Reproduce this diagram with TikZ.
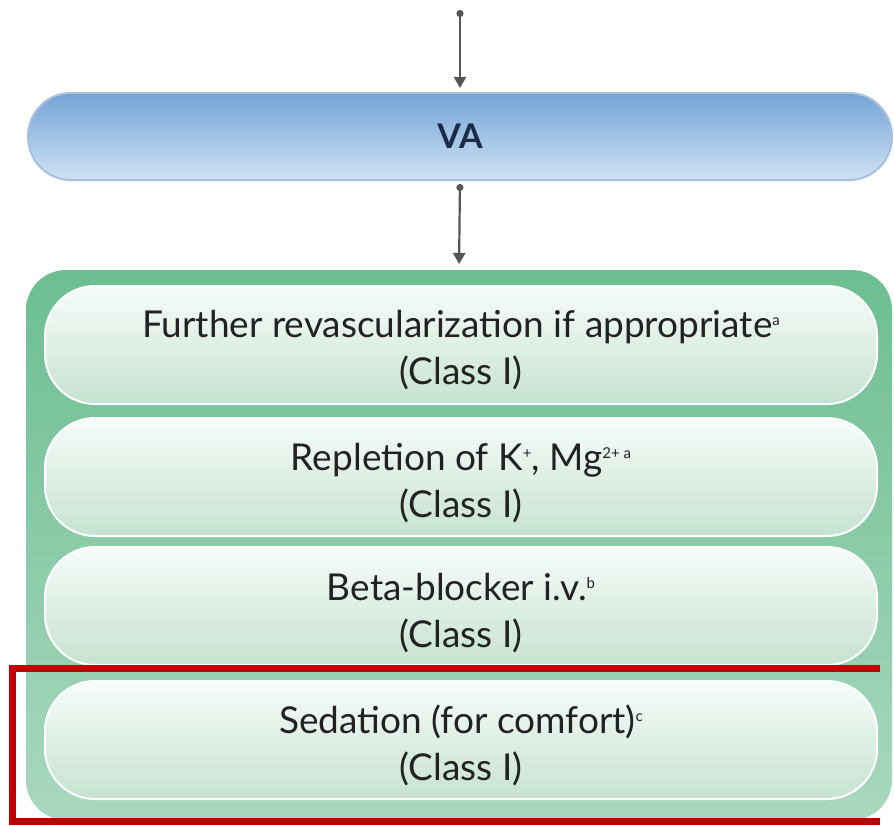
\documentclass[tikz,border=0pt]{standalone}
\usepackage{fontspec}
\setmainfont{Lato}
\usetikzlibrary{arrows.meta}

\definecolor{vatop}{HTML}{74A3D5}
\definecolor{vabottom}{HTML}{D0E2F4}
\definecolor{vaedge}{HTML}{A9C1DC}
\definecolor{vatext}{HTML}{1B2A48}
\definecolor{grtop}{HTML}{6DBE91}
\definecolor{grbottom}{HTML}{A9D8BF}
\definecolor{bxtop}{HTML}{F7FCF9}
\definecolor{bxbottom}{HTML}{C6E2D1}
\definecolor{txt}{HTML}{222222}
\definecolor{conn}{HTML}{555555}
\definecolor{hilite}{HTML}{C00000}

% small raised footnote marks
\newcommand\fnmark[1]{\raisebox{12pt}{\fontsize{15}{15}\selectfont #1}}

\tikzset{
  vabar/.style={rounded corners=43pt, minimum width=864pt, minimum height=87pt,
    inner sep=0pt, outer sep=0pt, top color=vatop, bottom color=vabottom,
    draw=vaedge, line width=2pt, text=vatext, font=\fontsize{34}{40}\selectfont\bfseries},
  greenframe/.style={rounded corners=40pt, minimum width=866pt, minimum height=550pt,
    inner sep=0pt, outer sep=0pt, top color=grtop, bottom color=grbottom, draw=none},
  stepbox/.style={rounded corners=50pt, minimum width=832pt, minimum height=118pt,
    inner sep=0pt, outer sep=0pt, top color=bxtop, bottom color=bxbottom,
    draw=white, line width=2pt},
  steptext/.style={text=txt, align=center, inner sep=0pt,
    font=\fontsize{37}{47}\selectfont},
  link/.style={draw=conn, line width=2.2pt,
    {Circle[length=7pt]}-{Triangle[length=11pt,width=12pt]}},
  highlight/.style={draw=hilite, line width=7pt, line cap=butt},
}

\begin{document}
\begin{tikzpicture}[x=1pt,y=-1pt]
  \useasboundingbox (0,0) rectangle (894,825);
  \fill[white] (0,0) rectangle (894,825);

  % entry point and VA bar
  \coordinate (entry) at (460,10);
  \node[vabar] (va) at (460,136.5) {VA};

  % green frame holding the four recommendations
  \node[greenframe] (frame) at (459,545) {};

  \node[stepbox] (s1) at (461,345) {};
  \node[stepbox] (s2) at (461,477) {};
  \node[stepbox] (s3) at (461,606) {};
  \node[stepbox] (s4) at (461,740) {};

  \node[steptext] (t1) at ([yshift=-5pt]s1.center) {Further revascularization if appropriate\fnmark{a}\\(Class I)};
  \node[steptext] (t2) at ([yshift=-6pt]s2.center) {Repletion of K\fnmark{+}, Mg\fnmark{2+ a}\\(Class I)};
  \node[steptext] (t3) at ([yshift=-7pt]s3.center) {Beta-blocker i.v.\fnmark{b}\\(Class I)};
  \node[steptext] (t4) at ([yshift=-5pt]s4.center) {Sedation (for comfort)\fnmark{c}\\(Class I)};

  % connectors
  \draw[link, shorten >=5pt] (entry) -- (va.north);
  \draw[link, shorten <=4pt, shorten >=6pt] (va.south) -- (frame.north);

  % highlight around the last recommendation, open on the right
  \draw[highlight] (880,668) -- (12,668) -- (12,821.5) -- (880,821.5);
\end{tikzpicture}
\end{document}
